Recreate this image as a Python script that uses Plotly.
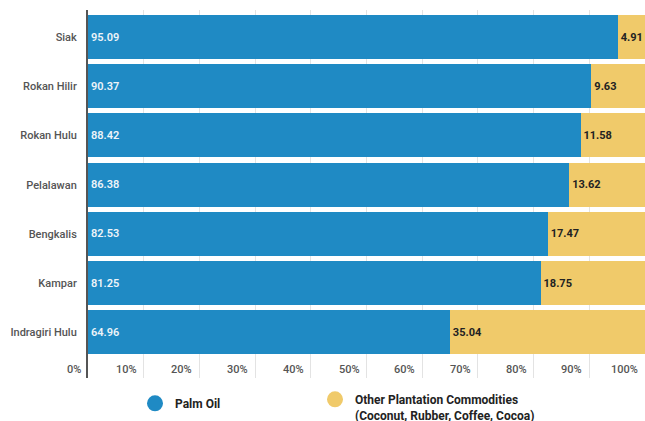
import plotly.graph_objects as go

regions = ["Indragiri Hulu", "Kampar", "Bengkalis", "Pelalawan", "Rokan Hulu", "Rokan Hilir", "Siak"]
palm_oil = [64.96, 81.25, 82.53, 86.38, 88.42, 90.37, 95.09]
other = [35.04, 18.75, 17.47, 13.62, 11.58, 9.63, 4.91]
x_ticks = [0, 10, 20, 30, 40, 50, 60, 70, 80, 90, 100]
x_tick_labels = [f"{t}%" for t in x_ticks]

BLUE = "#1f8ac4"
YELLOW = "#f0ca6a"
FONT = "Roboto"

fig = go.Figure()
fig.add_trace(go.Bar(
    y=regions, x=palm_oil, orientation="h", name="Palm Oil",
    marker=dict(color=BLUE, line=dict(width=0)),
    text=[f"{v:.2f}" for v in palm_oil], textposition="inside", insidetextanchor="start",
    textangle=0,
    insidetextfont=dict(family=FONT, size=11, color="#eef4f9", weight=600),
    constraintext="none", showlegend=False, hoverinfo="skip",
))
fig.add_trace(go.Bar(
    y=regions, x=other, orientation="h", name="Other",
    marker=dict(color=YELLOW, line=dict(width=0)),
    text=[f"{v:.2f}" for v in other], textposition="inside", insidetextanchor="start",
    textangle=0,
    insidetextfont=dict(family=FONT, size=11, color="#222222", weight=700),
    constraintext="none", showlegend=False, hoverinfo="skip", cliponaxis=False,
))
# legend entries with circular markers (one legend each, to place them freely)
fig.add_trace(go.Scatter(x=[None], y=[None], mode="markers", name="Palm Oil",
                         marker=dict(color=BLUE, size=16, symbol="circle"), legend="legend"))
fig.add_trace(go.Scatter(x=[None], y=[None], mode="markers",
                         name="Other Plantation Commodities<br>(Coconut, Rubber, Coffee, Cocoa)",
                         marker=dict(color=YELLOW, size=16, symbol="circle"), legend="legend2"))

# x tick labels placed to the left of their gridlines
for t, lab in zip(x_ticks, x_tick_labels):
    fig.add_annotation(x=t, y=0, xref="x", yref="paper", text=lab, showarrow=False,
                       xanchor="right", yanchor="bottom", xshift=-5, yshift=0,
                       font=dict(family=FONT, size=11, color="#555555", weight=500))

legend_font = dict(family=FONT, size=12, color="#222222", weight=700)
fig.update_layout(
    width=645, height=421,
    margin=dict(l=88, r=0, t=10, b=43),
    plot_bgcolor="white", paper_bgcolor="white",
    barmode="stack", bargap=0.105,
    font=dict(family=FONT, size=11, color="#555555"),
    showlegend=True,
    legend=dict(orientation="h", xref="container", yref="container",
                x=135 / 645, xanchor="left", y=1 - 389 / 421, yanchor="top",
                itemsizing="trace", valign="top", font=legend_font),
    legend2=dict(orientation="h", xref="container", yref="container",
                 x=315 / 645, xanchor="left", y=1 - 385 / 421, yanchor="top",
                 itemsizing="trace", valign="top", font=legend_font),
    xaxis=dict(range=[0, 100], tickvals=x_ticks, showticklabels=False,
               showgrid=True, gridcolor="#e3e3e3", automargin=False,
               gridwidth=1, zeroline=False, showline=False, ticks=""),
    yaxis=dict(type="category", categoryorder="array", categoryarray=regions,
               range=[-0.93, 6.55], showline=True, linecolor="#555555", linewidth=2,
               showgrid=False, ticks="", ticklabelstandoff=7, automargin=False,
               tickfont=dict(family=FONT, size=11, color="#555555", weight=500)),
)

fig.write_html("out.html", config={"displayModeBar": False},
               post_script="document.body.style.margin='0px';document.body.style.overflow='hidden';")
